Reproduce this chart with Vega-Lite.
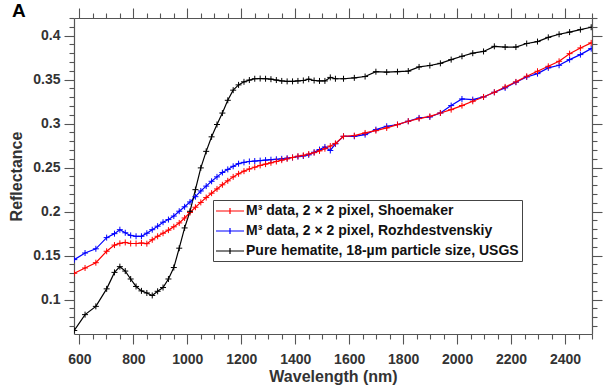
{
  "$schema": "https://vega.github.io/schema/vega-lite/v6.json",
  "width": 518,
  "height": 316,
  "autosize": "none",
  "padding": {"left": 74, "top": 18, "right": 17, "bottom": 56},
  "background": "white",
  "title": {"text": "A", "anchor": "start", "frame": "group", "dx": -62, "dy": 14, "offset": 0, "fontSize": 19, "font": "Liberation Sans", "fontWeight": "bold", "color": "#000"},
  "config": {
    "view": {"stroke": null},
    "axis": {"grid": false, "domainColor": "#555", "domainWidth": 1.2, "tickColor": "#555", "tickWidth": 1.1, "labelFont": "Liberation Sans", "labelFontSize": 14, "labelFontWeight": "bold", "labelColor": "#333", "titleFont": "Liberation Sans", "titleFontSize": 16, "titleFontWeight": "bold", "titleColor": "#333", "labelOverlap": false, "labelFlush": false}
  },
  "data": {"values": [
    {"w":581,"series":"Rozhdestvenskiy","r":0.1455},{"w":621,"series":"Rozhdestvenskiy","r":0.153},{"w":661,"series":"Rozhdestvenskiy","r":0.1578},{"w":701,"series":"Rozhdestvenskiy","r":0.1705},{"w":730,"series":"Rozhdestvenskiy","r":0.175},{"w":750,"series":"Rozhdestvenskiy","r":0.1795},{"w":770,"series":"Rozhdestvenskiy","r":0.176},{"w":790,"series":"Rozhdestvenskiy","r":0.173},{"w":810,"series":"Rozhdestvenskiy","r":0.172},{"w":830,"series":"Rozhdestvenskiy","r":0.172},{"w":850,"series":"Rozhdestvenskiy","r":0.1755},{"w":870,"series":"Rozhdestvenskiy","r":0.1795},{"w":890,"series":"Rozhdestvenskiy","r":0.1835},{"w":910,"series":"Rozhdestvenskiy","r":0.188},{"w":930,"series":"Rozhdestvenskiy","r":0.191},{"w":950,"series":"Rozhdestvenskiy","r":0.195},{"w":970,"series":"Rozhdestvenskiy","r":0.2005},{"w":990,"series":"Rozhdestvenskiy","r":0.2055},{"w":1010,"series":"Rozhdestvenskiy","r":0.211},{"w":1030,"series":"Rozhdestvenskiy","r":0.217},{"w":1050,"series":"Rozhdestvenskiy","r":0.2235},{"w":1070,"series":"Rozhdestvenskiy","r":0.229},{"w":1090,"series":"Rozhdestvenskiy","r":0.2345},{"w":1110,"series":"Rozhdestvenskiy","r":0.2395},{"w":1130,"series":"Rozhdestvenskiy","r":0.2445},{"w":1150,"series":"Rozhdestvenskiy","r":0.248},{"w":1170,"series":"Rozhdestvenskiy","r":0.2515},{"w":1190,"series":"Rozhdestvenskiy","r":0.2545},{"w":1210,"series":"Rozhdestvenskiy","r":0.256},{"w":1230,"series":"Rozhdestvenskiy","r":0.257},{"w":1250,"series":"Rozhdestvenskiy","r":0.2575},{"w":1270,"series":"Rozhdestvenskiy","r":0.258},{"w":1290,"series":"Rozhdestvenskiy","r":0.2585},{"w":1310,"series":"Rozhdestvenskiy","r":0.259},{"w":1330,"series":"Rozhdestvenskiy","r":0.2595},{"w":1350,"series":"Rozhdestvenskiy","r":0.26},{"w":1370,"series":"Rozhdestvenskiy","r":0.2607},{"w":1390,"series":"Rozhdestvenskiy","r":0.2615},{"w":1410,"series":"Rozhdestvenskiy","r":0.2625},{"w":1430,"series":"Rozhdestvenskiy","r":0.2632},{"w":1450,"series":"Rozhdestvenskiy","r":0.2645},{"w":1470,"series":"Rozhdestvenskiy","r":0.2675},{"w":1490,"series":"Rozhdestvenskiy","r":0.2705},{"w":1510,"series":"Rozhdestvenskiy","r":0.2735},{"w":1530,"series":"Rozhdestvenskiy","r":0.2695},{"w":1549,"series":"Rozhdestvenskiy","r":0.277},{"w":1579,"series":"Rozhdestvenskiy","r":0.2856},{"w":1619,"series":"Rozhdestvenskiy","r":0.2856},{"w":1659,"series":"Rozhdestvenskiy","r":0.2875},{"w":1699,"series":"Rozhdestvenskiy","r":0.2932},{"w":1739,"series":"Rozhdestvenskiy","r":0.297},{"w":1779,"series":"Rozhdestvenskiy","r":0.2989},{"w":1819,"series":"Rozhdestvenskiy","r":0.3027},{"w":1859,"series":"Rozhdestvenskiy","r":0.3065},{"w":1899,"series":"Rozhdestvenskiy","r":0.3075},{"w":1938,"series":"Rozhdestvenskiy","r":0.3121},{"w":1978,"series":"Rozhdestvenskiy","r":0.3205},{"w":2018,"series":"Rozhdestvenskiy","r":0.328},{"w":2058,"series":"Rozhdestvenskiy","r":0.3273},{"w":2098,"series":"Rozhdestvenskiy","r":0.3303},{"w":2138,"series":"Rozhdestvenskiy","r":0.3356},{"w":2178,"series":"Rozhdestvenskiy","r":0.3406},{"w":2218,"series":"Rozhdestvenskiy","r":0.347},{"w":2258,"series":"Rozhdestvenskiy","r":0.353},{"w":2298,"series":"Rozhdestvenskiy","r":0.3568},{"w":2338,"series":"Rozhdestvenskiy","r":0.3633},{"w":2378,"series":"Rozhdestvenskiy","r":0.3663},{"w":2417,"series":"Rozhdestvenskiy","r":0.3727},{"w":2457,"series":"Rozhdestvenskiy","r":0.3784},{"w":2497,"series":"Rozhdestvenskiy","r":0.3852},
    {"w":581,"series":"Shoemaker","r":0.130},{"w":621,"series":"Shoemaker","r":0.136},{"w":661,"series":"Shoemaker","r":0.142},{"w":701,"series":"Shoemaker","r":0.155},{"w":730,"series":"Shoemaker","r":0.162},{"w":750,"series":"Shoemaker","r":0.164},{"w":770,"series":"Shoemaker","r":0.165},{"w":790,"series":"Shoemaker","r":0.1638},{"w":810,"series":"Shoemaker","r":0.1638},{"w":830,"series":"Shoemaker","r":0.1644},{"w":850,"series":"Shoemaker","r":0.1636},{"w":870,"series":"Shoemaker","r":0.168},{"w":890,"series":"Shoemaker","r":0.172},{"w":910,"series":"Shoemaker","r":0.1755},{"w":930,"series":"Shoemaker","r":0.179},{"w":950,"series":"Shoemaker","r":0.1828},{"w":970,"series":"Shoemaker","r":0.1872},{"w":990,"series":"Shoemaker","r":0.1928},{"w":1010,"series":"Shoemaker","r":0.199},{"w":1030,"series":"Shoemaker","r":0.205},{"w":1050,"series":"Shoemaker","r":0.2105},{"w":1070,"series":"Shoemaker","r":0.216},{"w":1090,"series":"Shoemaker","r":0.221},{"w":1110,"series":"Shoemaker","r":0.2258},{"w":1130,"series":"Shoemaker","r":0.2305},{"w":1150,"series":"Shoemaker","r":0.235},{"w":1170,"series":"Shoemaker","r":0.2395},{"w":1190,"series":"Shoemaker","r":0.243},{"w":1210,"series":"Shoemaker","r":0.246},{"w":1230,"series":"Shoemaker","r":0.2485},{"w":1250,"series":"Shoemaker","r":0.2505},{"w":1270,"series":"Shoemaker","r":0.2525},{"w":1290,"series":"Shoemaker","r":0.254},{"w":1310,"series":"Shoemaker","r":0.2555},{"w":1330,"series":"Shoemaker","r":0.257},{"w":1350,"series":"Shoemaker","r":0.2585},{"w":1370,"series":"Shoemaker","r":0.26},{"w":1390,"series":"Shoemaker","r":0.2615},{"w":1410,"series":"Shoemaker","r":0.263},{"w":1430,"series":"Shoemaker","r":0.264},{"w":1450,"series":"Shoemaker","r":0.2655},{"w":1470,"series":"Shoemaker","r":0.267},{"w":1490,"series":"Shoemaker","r":0.269},{"w":1510,"series":"Shoemaker","r":0.2715},{"w":1530,"series":"Shoemaker","r":0.2745},{"w":1549,"series":"Shoemaker","r":0.2775},{"w":1579,"series":"Shoemaker","r":0.2856},{"w":1619,"series":"Shoemaker","r":0.2864},{"w":1659,"series":"Shoemaker","r":0.2894},{"w":1699,"series":"Shoemaker","r":0.292},{"w":1739,"series":"Shoemaker","r":0.2951},{"w":1779,"series":"Shoemaker","r":0.2989},{"w":1819,"series":"Shoemaker","r":0.3027},{"w":1859,"series":"Shoemaker","r":0.3057},{"w":1899,"series":"Shoemaker","r":0.3083},{"w":1938,"series":"Shoemaker","r":0.3121},{"w":1978,"series":"Shoemaker","r":0.3159},{"w":2018,"series":"Shoemaker","r":0.3205},{"w":2058,"series":"Shoemaker","r":0.3254},{"w":2098,"series":"Shoemaker","r":0.3303},{"w":2138,"series":"Shoemaker","r":0.3356},{"w":2178,"series":"Shoemaker","r":0.3417},{"w":2218,"series":"Shoemaker","r":0.3474},{"w":2258,"series":"Shoemaker","r":0.3538},{"w":2298,"series":"Shoemaker","r":0.3595},{"w":2338,"series":"Shoemaker","r":0.3651},{"w":2378,"series":"Shoemaker","r":0.3708},{"w":2417,"series":"Shoemaker","r":0.3795},{"w":2457,"series":"Shoemaker","r":0.386},{"w":2497,"series":"Shoemaker","r":0.3917},
    {"w":581,"series":"Hematite","r":0.065},{"w":621,"series":"Hematite","r":0.083},{"w":661,"series":"Hematite","r":0.0924},{"w":701,"series":"Hematite","r":0.1123},{"w":730,"series":"Hematite","r":0.131},{"w":750,"series":"Hematite","r":0.1375},{"w":770,"series":"Hematite","r":0.1325},{"w":790,"series":"Hematite","r":0.1235},{"w":810,"series":"Hematite","r":0.115},{"w":830,"series":"Hematite","r":0.110},{"w":850,"series":"Hematite","r":0.1076},{"w":870,"series":"Hematite","r":0.1048},{"w":890,"series":"Hematite","r":0.1095},{"w":910,"series":"Hematite","r":0.1138},{"w":930,"series":"Hematite","r":0.1235},{"w":950,"series":"Hematite","r":0.1365},{"w":970,"series":"Hematite","r":0.1585},{"w":990,"series":"Hematite","r":0.1815},{"w":1010,"series":"Hematite","r":0.2004},{"w":1030,"series":"Hematite","r":0.225},{"w":1050,"series":"Hematite","r":0.2497},{"w":1070,"series":"Hematite","r":0.2685},{"w":1090,"series":"Hematite","r":0.285},{"w":1110,"series":"Hematite","r":0.299},{"w":1130,"series":"Hematite","r":0.312},{"w":1150,"series":"Hematite","r":0.3265},{"w":1170,"series":"Hematite","r":0.338},{"w":1190,"series":"Hematite","r":0.344},{"w":1210,"series":"Hematite","r":0.3475},{"w":1230,"series":"Hematite","r":0.3495},{"w":1250,"series":"Hematite","r":0.351},{"w":1270,"series":"Hematite","r":0.3512},{"w":1290,"series":"Hematite","r":0.351},{"w":1310,"series":"Hematite","r":0.3505},{"w":1330,"series":"Hematite","r":0.3495},{"w":1350,"series":"Hematite","r":0.3485},{"w":1370,"series":"Hematite","r":0.348},{"w":1390,"series":"Hematite","r":0.348},{"w":1410,"series":"Hematite","r":0.3485},{"w":1430,"series":"Hematite","r":0.349},{"w":1450,"series":"Hematite","r":0.3505},{"w":1470,"series":"Hematite","r":0.349},{"w":1490,"series":"Hematite","r":0.3485},{"w":1510,"series":"Hematite","r":0.3485},{"w":1530,"series":"Hematite","r":0.3525},{"w":1549,"series":"Hematite","r":0.351},{"w":1579,"series":"Hematite","r":0.351},{"w":1619,"series":"Hematite","r":0.352},{"w":1659,"series":"Hematite","r":0.3535},{"w":1699,"series":"Hematite","r":0.359},{"w":1739,"series":"Hematite","r":0.3585},{"w":1779,"series":"Hematite","r":0.359},{"w":1819,"series":"Hematite","r":0.3597},{"w":1859,"series":"Hematite","r":0.3644},{"w":1899,"series":"Hematite","r":0.366},{"w":1938,"series":"Hematite","r":0.3685},{"w":1978,"series":"Hematite","r":0.3727},{"w":2018,"series":"Hematite","r":0.3765},{"w":2058,"series":"Hematite","r":0.38},{"w":2098,"series":"Hematite","r":0.382},{"w":2138,"series":"Hematite","r":0.3878},{"w":2178,"series":"Hematite","r":0.387},{"w":2218,"series":"Hematite","r":0.387},{"w":2258,"series":"Hematite","r":0.391},{"w":2298,"series":"Hematite","r":0.3932},{"w":2338,"series":"Hematite","r":0.398},{"w":2378,"series":"Hematite","r":0.4015},{"w":2417,"series":"Hematite","r":0.404},{"w":2457,"series":"Hematite","r":0.4068},{"w":2497,"series":"Hematite","r":0.4095}
  ]},
  "resolve": {"axis": {"x": "independent", "y": "independent"}},
  "layer": [
    {
      "mark": {"type": "line", "strokeWidth": 1.2, "clip": true},
      "encoding": {
        "x": {"field": "w", "type": "quantitative", "scale": {"domain": [580, 2500], "nice": false, "zero": false},
          "axis": {"orient": "bottom", "title": "Wavelength (nm)", "values": [600,650,700,750,800,850,900,950,1000,1050,1100,1150,1200,1250,1300,1350,1400,1450,1500,1550,1600,1650,1700,1750,1800,1850,1900,1950,2000,2050,2100,2150,2200,2250,2300,2350,2400,2450,2500],
            "format": "d", "labelExpr": "datum.value % 200 === 0 && datum.value < 2500 ? datum.label : ''",
            "tickSize": {"condition": {"test": "datum.value % 200 === 0", "value": 10}, "value": 5},
            "labelPadding": 8, "titlePadding": 2}},
        "y": {"field": "r", "type": "quantitative", "scale": {"domain": [0.061, 0.42], "nice": false, "zero": false},
          "axis": {"orient": "left", "title": "Reflectance", "values": [0.07,0.08,0.09,0.1,0.11,0.12,0.13,0.14,0.15,0.16,0.17,0.18,0.19,0.2,0.21,0.22,0.23,0.24,0.25,0.26,0.27,0.28,0.29,0.3,0.31,0.32,0.33,0.34,0.35,0.36,0.37,0.38,0.39,0.4,0.41,0.42],
            "format": ".2~f", "labelExpr": "round(datum.value*100) % 5 === 0 ? datum.label : ''",
            "tickSize": {"condition": {"test": "round(datum.value*100) % 5 === 0", "value": 10}, "value": 5},
            "labelPadding": 4, "titlePadding": 8}},
        "color": {"field": "series", "type": "nominal",
          "scale": {"domain": ["Shoemaker", "Rozhdestvenskiy", "Hematite"], "range": ["#ff0000", "#0000ff", "#000000"]},
          "legend": {"orient": "none", "legendX": 139, "legendY": 182, "title": null, "strokeColor": "#444", "fillColor": "white", "padding": 3,
            "symbolType": "M-2,0L2,0M0,-0.44L0,0.44", "symbolSize": 196, "symbolStrokeWidth": 1.2, "symbolOffset": 6,
            "labelFont": "Liberation Sans", "labelFontSize": 14, "labelFontWeight": "bold", "labelColor": "#111", "labelLimit": 400, "labelOffset": 8, "rowPadding": 5,
            "labelExpr": "datum.label === 'Shoemaker' ? 'M³ data, 2 × 2 pixel, Shoemaker' : datum.label === 'Rozhdestvenskiy' ? 'M³ data, 2 × 2 pixel, Rozhdestvenskiy' : 'Pure hematite, 18-µm particle size, USGS'"}}
      }
    },
    {
      "mark": {"type": "point", "shape": "M-1,0L1,0M0,-1L0,1", "size": 36, "filled": false, "strokeWidth": 1, "opacity": 1, "clip": true},
      "encoding": {
        "x": {"field": "w", "type": "quantitative", "scale": {"domain": [580, 2500], "nice": false, "zero": false},
          "axis": {"orient": "top", "title": null, "labels": false, "values": [600,650,700,750,800,850,900,950,1000,1050,1100,1150,1200,1250,1300,1350,1400,1450,1500,1550,1600,1650,1700,1750,1800,1850,1900,1950,2000,2050,2100,2150,2200,2250,2300,2350,2400,2450,2500],
            "tickSize": {"condition": {"test": "datum.value % 200 === 0", "value": 10}, "value": 5}}},
        "y": {"field": "r", "type": "quantitative", "scale": {"domain": [0.061, 0.42], "nice": false, "zero": false},
          "axis": {"orient": "right", "title": null, "labels": false, "values": [0.07,0.08,0.09,0.1,0.11,0.12,0.13,0.14,0.15,0.16,0.17,0.18,0.19,0.2,0.21,0.22,0.23,0.24,0.25,0.26,0.27,0.28,0.29,0.3,0.31,0.32,0.33,0.34,0.35,0.36,0.37,0.38,0.39,0.4,0.41,0.42],
            "tickSize": {"condition": {"test": "round(datum.value*100) % 5 === 0", "value": 10}, "value": 5}}},
        "color": {"field": "series", "type": "nominal"}
      }
    }
  ]
}
